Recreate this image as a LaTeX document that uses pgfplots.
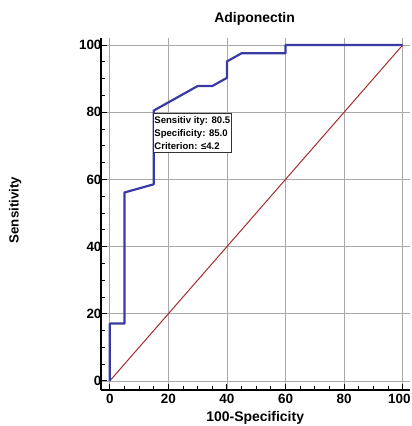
\documentclass[border=0pt]{standalone}
\usepackage{fontspec}
\setmainfont{Liberation Sans}
\usepackage{pgfplots}
\pgfplotsset{compat=1.18}
\definecolor{rocblue}{RGB}{58,58,165}
\definecolor{diagred}{RGB}{165,45,45}
\definecolor{gridgray}{RGB}{170,170,170}
\begin{document}
\begin{tikzpicture}
\useasboundingbox (-101bp,-36bp) rectangle (311bp,390bp);
\begin{axis}[
    at={(0,0)}, anchor=south west,
    scale only axis, width=309bp, height=352bp,
    xmin=-3, xmax=102.5, ymin=-2.7, ymax=102.1,
    axis lines*=left,
    axis line style={line width=2bp, black},
    xtick={0,20,...,100}, ytick={0,20,...,100},
    xticklabels={0,20,40,60,80,\makebox[16bp][r]{100}},
    minor tick num=3,
    tick align=inside,
    major tick length=6bp, minor tick length=4bp,
    major tick style={black, line width=1bp},
    minor tick style={black, line width=0.8bp},
    xmajorgrids=true, ymajorgrids=true,
    grid style={gridgray, line width=0.8bp},
    /pgf/number format/assume math mode=true,
    tick label style={font=\bfseries\fontsize{13.5}{14}\selectfont},
    yticklabel style={xshift=4bp},
    xticklabel style={yshift=-1bp},
    title={Adiponectin},
    every axis title/.style={at={(axis description cs:0.497,1.054)}, anchor=center,
                 font=\bfseries\fontsize{14}{15}\selectfont},
    xlabel={100-Specificity},
    xlabel style={at={(axis description cs:0.499,-0.0795)}, anchor=center,
                  font=\bfseries\fontsize{14}{15}\selectfont},
    ylabel={Sensitivity},
    ylabel style={at={(axis description cs:-0.278,0.511)}, anchor=center,
                  font=\bfseries\fontsize{13.3}{14}\selectfont},
    clip=false,
  ]
\addplot[diagred, line width=1bp] coordinates {(0,0) (100,100)};
\addplot[rocblue, line width=2.2bp, line join=round] coordinates {
  (0,0) (0,17.07) (5,17.07) (5,56.10) (15,58.54) (15,80.49)
  (30,87.80) (35,87.80) (40,90.24) (40,95.12) (45,97.56)
  (60,97.56) (60,100) (100,100)};
\node[draw=black!80, fill=white, line width=0.8bp, anchor=north west,
      inner xsep=1.5bp, inner ysep=3.5bp, align=left,
      font=\bfseries\fontsize{9.6}{13}\selectfont]
  at (axis cs:14.6,79.9) {Sensitiv ity: 80.5\\Specificity: 85.0\\Criterion: ≤4.2};
\end{axis}
\end{tikzpicture}
\end{document}
